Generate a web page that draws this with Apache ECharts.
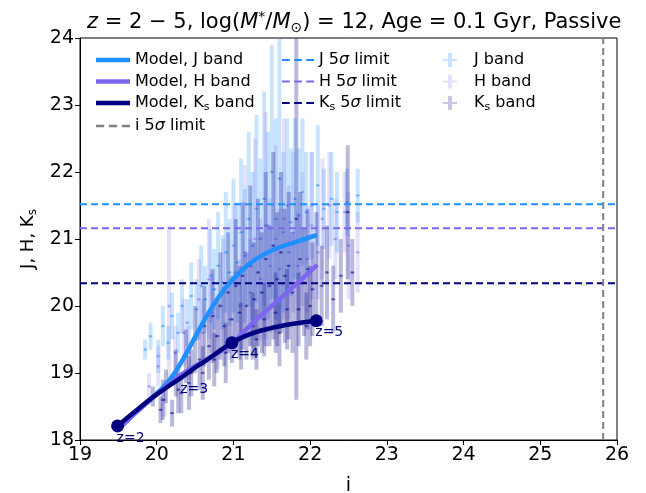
<!DOCTYPE html>
<html>
<head>
<meta charset="utf-8">
<script src="https://cdn.jsdelivr.net/npm/echarts@6/dist/echarts.min.js"></script>
<style>
  html, body { margin: 0; padding: 0; background: #fff; }
  #chart { width: 646px; height: 493px; }
</style>
</head>
<body>
<div id="chart"></div>
<script>
// model tracks (i, mag)
var modelJ = [[19.49, 18.15], [19.7, 18.38], [19.95, 18.64], [20.17, 18.9], [20.35, 19.22], [20.53, 19.6],
  [20.72, 19.98], [20.92, 20.3], [21.22, 20.64], [21.52, 20.84], [21.83, 20.96], [22.09, 21.06]];
var modelH = [[19.49, 18.15], [19.72, 18.4], [19.95, 18.63], [20.17, 18.84], [20.35, 19.0], [20.6, 19.17],
  [20.8, 19.3], [20.98, 19.44], [21.3, 19.8], [21.6, 20.1], [21.87, 20.38], [22.09, 20.61]];
var modelKs = [[19.49, 18.21], [19.72, 18.43], [19.95, 18.64], [20.15, 18.8], [20.32, 18.93], [20.5, 19.08],
  [20.66, 19.2], [20.82, 19.33], [20.98, 19.45], [21.15, 19.55], [21.35, 19.63], [21.7, 19.72], [22.08, 19.78]];

// redshift markers on the Ks track
var zNames = ["z=2", "z=3", "z=4", "z=5"];
var zI = [19.49, 20.32, 20.98, 22.08];
var zKs = [18.21, 18.93, 19.45, 19.78];
var zMarked = [true, false, true, true];

// 5 sigma limits
var limJ = 21.52, limH = 21.16, limKs = 20.34, limI = 25.82;

// observed points: [i, mag, err]
var obsJ = [
  [19.85, 19.35, 0.15], [19.92, 19.55, 0.2], [20.02, 19.25, 0.25], [20.08, 19.7, 0.3], [20.15, 19.45, 0.25],
  [20.2, 19.85, 0.35], [20.28, 19.6, 0.3], [20.33, 20.0, 0.4], [20.4, 19.75, 0.35], [20.45, 20.15, 0.5],
  [20.52, 19.95, 0.45], [20.58, 20.3, 0.6], [20.63, 20.1, 0.5], [20.7, 20.45, 0.7], [20.75, 20.25, 0.6],
  [20.8, 20.6, 0.8], [20.86, 20.35, 0.7], [20.9, 20.8, 0.9], [20.95, 20.5, 0.8], [21.0, 20.9, 1.0],
  [21.05, 20.65, 0.9], [21.1, 21.1, 1.1], [21.15, 20.75, 1.0], [21.2, 21.3, 1.3], [21.25, 20.9, 1.1],
  [21.3, 21.45, 1.4], [21.35, 21.0, 1.2], [21.4, 21.6, 1.6], [21.45, 21.2, 1.4], [21.5, 22.0, 1.9],
  [21.55, 21.3, 1.5], [21.6, 21.9, 2.2], [21.65, 21.1, 1.2], [21.7, 21.5, 1.3], [21.75, 21.25, 1.1],
  [21.8, 21.6, 1.2], [21.85, 21.35, 1.0], [21.9, 21.7, 1.1], [21.95, 21.4, 0.9], [22.02, 21.5, 0.8],
  [22.1, 21.8, 0.9], [22.18, 21.45, 0.6], [22.28, 21.6, 0.7], [22.35, 21.4, 0.6], [22.48, 21.55, 0.5],
  [22.62, 21.65, 0.4]
];
var obsH = [
  [19.9, 18.8, 0.2], [20.02, 19.1, 0.3], [20.1, 18.6, 0.25], [20.16, 20.0, 1.2], [20.24, 19.3, 0.4],
  [20.35, 19.6, 0.5], [20.42, 19.3, 0.4], [20.55, 20.1, 0.6], [20.6, 19.6, 0.5], [20.68, 20.4, 0.9],
  [20.72, 19.9, 0.6], [20.8, 19.55, 0.5], [20.87, 20.2, 0.8], [20.95, 19.8, 0.6], [21.02, 20.5, 1.0],
  [21.08, 20.0, 0.7], [21.15, 20.8, 1.3], [21.22, 20.2, 0.8], [21.28, 21.0, 1.5], [21.35, 20.4, 0.9],
  [21.42, 21.2, 1.7], [21.48, 20.6, 1.0], [21.55, 21.0, 1.4], [21.6, 20.55, 0.9], [21.66, 21.3, 1.5],
  [21.72, 20.8, 1.0], [21.78, 21.1, 1.2], [21.84, 20.6, 0.8], [21.9, 21.0, 1.0], [21.96, 20.7, 0.8],
  [22.02, 21.2, 1.1], [22.1, 20.8, 0.7], [22.16, 21.3, 0.9], [22.25, 21.5, 0.8], [22.33, 21.0, 0.6],
  [22.45, 21.4, 0.6], [22.5, 20.9, 0.8], [22.62, 20.8, 0.6]
];
var obsKs = [
  [19.95, 18.65, 0.15], [20.05, 18.45, 0.2], [20.12, 18.8, 0.25], [20.2, 18.4, 0.2], [20.25, 19.0, 0.35],
  [20.32, 18.7, 0.3], [20.38, 19.25, 0.4], [20.45, 19.0, 0.35], [20.5, 19.5, 0.5], [20.56, 19.2, 0.45],
  [20.6, 19.0, 0.4], [20.62, 19.7, 0.6], [20.68, 19.4, 0.5], [20.73, 19.85, 0.7], [20.75, 19.2, 0.4],
  [20.78, 19.55, 0.55], [20.83, 20.0, 0.8], [20.88, 19.7, 0.6], [20.9, 19.3, 0.45], [20.93, 20.2, 0.9],
  [20.98, 19.8, 0.65], [21.03, 20.3, 1.0], [21.08, 19.9, 0.7], [21.1, 19.55, 0.5], [21.12, 20.45, 1.1],
  [21.17, 20.0, 0.8], [21.22, 20.6, 1.2], [21.25, 19.7, 0.5], [21.27, 20.1, 0.85], [21.32, 20.5, 1.1],
  [21.37, 20.2, 0.9], [21.4, 19.8, 0.55], [21.42, 20.7, 1.3], [21.47, 20.3, 0.9], [21.52, 20.9, 1.4],
  [21.55, 19.9, 0.6], [21.57, 20.4, 1.0], [21.62, 20.8, 1.2], [21.67, 20.45, 1.0], [21.7, 19.95, 0.6],
  [21.72, 20.6, 1.1], [21.77, 20.2, 0.9], [21.82, 21.3, 2.7], [21.85, 19.95, 0.55], [21.87, 20.7, 1.0],
  [21.92, 20.35, 0.8], [21.97, 20.55, 0.9], [22.0, 20.0, 0.6], [22.03, 20.25, 0.7], [22.08, 20.6, 0.8],
  [22.15, 20.3, 0.6], [22.22, 20.5, 0.7], [22.3, 20.1, 0.5], [22.4, 20.45, 0.55], [22.49, 21.4, 1.0],
  [22.55, 20.5, 0.5], [20.08, 18.6, 0.3], [20.28, 18.75, 0.35], [20.42, 18.85, 0.4], [21.3, 19.5, 0.45],
  [21.6, 19.6, 0.5], [21.95, 19.7, 0.5]
];

var colJ = "#1e90ff", colH = "#7b68ee", colKs = "#000080", colI = "#808080";
var font = "DejaVu Sans";

function errBars(rgb, a) {
  return function (params, api) {
    var x = api.value(0), y = api.value(1), e = api.value(2);
    var top = api.coord([x, Math.min(y + e, 24)]);
    var bot = api.coord([x, Math.max(y - e, 18)]);
    var l = api.coord([x - 0.03, y]);
    var r = api.coord([x + 0.03, y]);
    var c = api.coord([x, y]);
    return {
      type: "group",
      children: [
        { type: "line", shape: { x1: top[0], y1: top[1], x2: bot[0], y2: bot[1] },
          style: { stroke: "rgba(" + rgb + "," + a + ")", lineWidth: 4 } },
        { type: "line", shape: { x1: l[0], y1: l[1], x2: r[0], y2: r[1] },
          style: { stroke: "rgba(" + rgb + "," + a + ")", lineWidth: 1.5 } },
        { type: "circle", shape: { cx: c[0], cy: c[1], r: 1.4 },
          style: { fill: "rgba(" + rgb + ",0.45)" } }
      ]
    };
  };
}

function limitLine(name, color, pts) {
  return {
    name: name, type: "line", data: pts, symbol: "none", z: 4,
    lineStyle: { color: color, width: 2, type: [7, 4] }, itemStyle: { color: color }
  };
}

var legendRich = {
  sub: { fontFamily: font, fontSize: 11, padding: [8, 0, 0, 0] },
  it: { fontFamily: font, fontSize: 16, fontStyle: "italic" }
};
function legendFmt(name) {
  return name.replace("Ks", "K{sub|s}").replace("σ", "{it|σ}");
}
var solidIcon = "path://M0,0h34v4.5h-34z";
var dashIcon = "path://M0,0h7v2h-7z M11,0h7v2h-7z M22,0h7v2h-7z";
var plusIcon = "path://M5,0h4v14h-4z M0,6h5v2h-5z M9,6h5v2h-5z";

var myChart = echarts.init(document.getElementById("chart"));
var option = {
  animation: false,
  textStyle: { fontFamily: font },
  title: {
    text: "{it|z} = 2 − 5, log({it|M}{sup|*}/{it|M}{sub|⊙}) = 12, Age = 0.1 Gyr, Passive",
    left: 82, top: 5,
    textStyle: {
      fontFamily: font, fontSize: 21, fontWeight: "normal", color: "#000",
      rich: {
        it: { fontFamily: font, fontSize: 21, fontStyle: "italic" },
        sup: { fontFamily: font, fontSize: 14, padding: [0, 0, 11, 0] },
        sub: { fontFamily: font, fontSize: 14, padding: [11, 0, 0, 0] }
      }
    }
  },
  grid: {
    left: 80, right: 29, top: 38, bottom: 53, outerBoundsMode: "none", containLabel: false,
    show: true, borderColor: "#000", borderWidth: 1
  },
  xAxis: {
    type: "value", min: 19, max: 26, interval: 1,
    name: "i", nameLocation: "middle", nameGap: 37,
    nameTextStyle: { fontFamily: font, fontSize: 19, color: "#000" },
    axisLine: { lineStyle: { color: "#000" } },
    axisTick: { length: 5, lineStyle: { color: "#000" } },
    axisLabel: { fontFamily: font, fontSize: 19, color: "#000", margin: 6 },
    splitLine: { show: false }
  },
  yAxis: {
    type: "value", min: 18, max: 24, interval: 1,
    name: "J, H, K{sub|s}", nameLocation: "middle", nameGap: 35,
    nameTextStyle: {
      fontFamily: font, fontSize: 18, color: "#000",
      rich: { sub: { fontFamily: font, fontSize: 12, padding: [9, 0, 0, 0] } }
    },
    axisLine: { lineStyle: { color: "#000" } },
    axisTick: { length: 5, lineStyle: { color: "#000" } },
    axisLabel: { fontFamily: font, fontSize: 19, color: "#000", margin: 6 },
    splitLine: { show: false }
  },
  legend: [
    {
      data: [
        { name: "Model, J band", icon: solidIcon },
        { name: "Model, H band", icon: solidIcon },
        { name: "Model, Ks band", icon: solidIcon },
        { name: "i 5σ limit", icon: dashIcon }
      ],
      orient: "vertical", left: 91, top: 47, itemWidth: 34, itemHeight: 14, itemGap: 5.5,
      formatter: legendFmt,
      textStyle: { fontFamily: font, fontSize: 16, color: "#000", rich: legendRich }
    },
    {
      data: [
        { name: "J 5σ limit", icon: dashIcon },
        { name: "H 5σ limit", icon: dashIcon },
        { name: "Ks 5σ limit", icon: dashIcon }
      ],
      orient: "vertical", left: 277, top: 47, itemWidth: 32, itemHeight: 14, itemGap: 5.5,
      formatter: legendFmt,
      textStyle: { fontFamily: font, fontSize: 16, color: "#000", rich: legendRich }
    },
    {
      data: [
        { name: "J band", icon: plusIcon },
        { name: "H band", icon: plusIcon },
        { name: "Ks band", icon: plusIcon }
      ],
      orient: "vertical", left: 438, top: 47, itemWidth: 14, itemHeight: 14, itemGap: 5.5,
      formatter: legendFmt,
      textStyle: { fontFamily: font, fontSize: 16, color: "#000", rich: legendRich, padding: [0, 0, 0, 12] }
    }
  ],
  series: [
    { name: "J band", type: "custom", data: obsJ, renderItem: errBars("30,144,255", 0.24), z: 1,
      itemStyle: { color: "rgba(30,144,255,0.25)" } },
    { name: "H band", type: "custom", data: obsH, renderItem: errBars("123,104,238", 0.2), z: 1,
      itemStyle: { color: "rgba(123,104,238,0.2)" } },
    { name: "Ks band", type: "custom", data: obsKs, renderItem: errBars("0,0,128", 0.27), z: 1,
      itemStyle: { color: "rgba(0,0,128,0.22)" } },
    limitLine("J 5σ limit", colJ, [[19, limJ], [26, limJ]]),
    limitLine("H 5σ limit", colH, [[19, limH], [26, limH]]),
    limitLine("Ks 5σ limit", colKs, [[19, limKs], [26, limKs]]),
    limitLine("i 5σ limit", colI, [[limI, 18], [limI, 24]]),
    { name: "Model, J band", type: "line", data: modelJ, smooth: 0.4, symbol: "none", z: 5,
      lineStyle: { color: colJ, width: 4.5 }, itemStyle: { color: colJ } },
    { name: "Model, H band", type: "line", data: modelH, smooth: 0.4, symbol: "none", z: 5,
      lineStyle: { color: colH, width: 4.5 }, itemStyle: { color: colH } },
    { name: "Model, Ks band", type: "line", data: modelKs, smooth: 0.4, symbol: "none", z: 6,
      lineStyle: { color: colKs, width: 4.5 }, itemStyle: { color: colKs } },
    {
      name: "zmarks", type: "scatter", z: 7, symbolSize: 13,
      data: zI.map(function (v, k) {
        return {
          value: [v, zKs[k], zNames[k]],
          itemStyle: { color: zMarked[k] ? colKs : "rgba(0,0,0,0)", opacity: 1 }
        };
      }),
      itemStyle: { opacity: 1 },
      label: {
        show: true, position: [5.5, 11.5], align: "left", verticalAlign: "top",
        formatter: function (p) { return p.value[2]; },
        fontFamily: font, fontSize: 14, color: colKs
      }
    }
  ]
};
myChart.setOption(option);
</script>
</body>
</html>
